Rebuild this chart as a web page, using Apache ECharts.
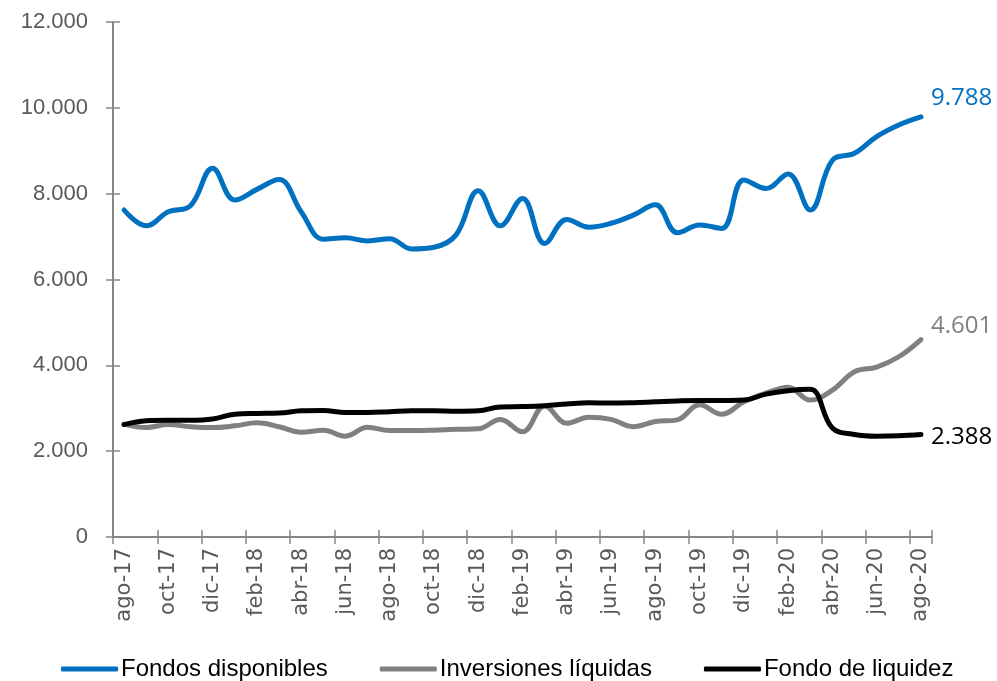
<!DOCTYPE html>
<html>
<head>
<meta charset="utf-8">
<script src="https://cdn.jsdelivr.net/npm/echarts@6/dist/echarts.min.js"></script>
<style>
  html, body { margin: 0; padding: 0; background: #fff; }
  #chart { width: 997px; height: 681px; }
</style>
</head>
<body>
<div id="chart"></div>
<script>
// Monthly categories, ago-17 .. ago-20
const months = ['ago-17','sep-17','oct-17','nov-17','dic-17','ene-18','feb-18','mar-18','abr-18','may-18','jun-18','jul-18',
  'ago-18','sep-18','oct-18','nov-18','dic-18','ene-19','feb-19','mar-19','abr-19','may-19','jun-19','jul-19',
  'ago-19','sep-19','oct-19','nov-19','dic-19','ene-20','feb-20','mar-20','abr-20','may-20','jun-20','jul-20','ago-20'];

const fondosDisponibles = [7620, 7250, 7580, 7720, 8590, 7850, 8100, 8330, 7580, 6940, 6970, 6900,
  6950, 6710, 6750, 7040, 8070, 7250, 7890, 6840, 7400, 7220, 7310, 7500,
  7740, 7090, 7270, 7190, 8320, 8120, 8460, 7620, 8780, 8940, 9330, 9600, 9788];

const inversionesLiquidas = [2630, 2550, 2620, 2570, 2550, 2590, 2660, 2570, 2440, 2490, 2350, 2560,
  2480, 2480, 2490, 2510, 2520, 2740, 2450, 3050, 2650, 2790, 2740, 2570,
  2690, 2730, 3080, 2860, 3150, 3350, 3490, 3190, 3420, 3850, 3960, 4200, 4601];

const fondoLiquidez = [2620, 2710, 2720, 2720, 2750, 2860, 2880, 2890, 2940, 2950, 2900, 2900,
  2920, 2940, 2940, 2930, 2940, 3030, 3040, 3060, 3100, 3130, 3120, 3130,
  3150, 3170, 3180, 3180, 3190, 3330, 3410, 3440, 2540, 2390, 2350, 2360, 2388];

const yTicks = { min: 0, max: 12000, step: 2000 };

const fmt = v => String(Math.round(v)).replace(/\B(?=(\d{3})+(?!\d))/g, '.');

const axisGray = '#868686';
const labelGray = '#595959';

const chart = echarts.init(document.getElementById('chart'), null, { renderer: 'canvas' });

function lineSeries(name, data, color, labelOffset) {
  return {
    name, type: 'line', data, smooth: 0.4, symbol: 'none',
    xAxisIndex: 0, yAxisIndex: 0,
    lineStyle: { color, width: 5, cap: 'round', join: 'round' },
    itemStyle: { color },
    endLabel: {
      show: true,
      formatter: p => fmt(p.value),
      color, fontFamily: '"Open Sans"', fontSize: 24,
      distance: 10, offset: labelOffset
    },
    z: 3
  };
}

chart.setOption({
  animation: false,
  grid: { left: 113, right: 65, top: 22, bottom: 144, containLabel: false },
  legend: {
    left: 56, top: 652,
    icon: 'roundRect', itemWidth: 57, itemHeight: 5, itemGap: 52,
    textStyle: { fontFamily: '"Liberation Sans"', fontSize: 24, color: '#000', padding: [0, 0, 0, -2] },
    data: ['Fondos disponibles', 'Inversiones líquidas', 'Fondo de liquidez']
  },
  xAxis: [
    {
      type: 'category', data: months, boundaryGap: true,
      axisLine: { lineStyle: { color: axisGray, width: 2 } },
      axisTick: { show: true, interval: 1, length: 7, lineStyle: { color: axisGray, width: 1.5 } },
      axisLabel: { interval: 1, rotate: 90, margin: 11, color: labelGray, fontFamily: '"DejaVu Sans"', fontSize: 21 }
    },
    {
      type: 'category', data: months, boundaryGap: true, position: 'bottom',
      axisLine: { show: false },
      axisTick: { show: true, inside: true, interval: 1, length: 7, lineStyle: { color: axisGray, width: 1.5 } },
      axisLabel: { show: false }
    }
  ],
  yAxis: [
    {
      type: 'value', min: yTicks.min, max: yTicks.max, interval: yTicks.step,
      splitLine: { show: false },
      axisLine: { show: true, lineStyle: { color: axisGray, width: 2 } },
      axisTick: { show: true, length: 7, lineStyle: { color: axisGray, width: 1.5 } },
      axisLabel: { margin: 25, color: labelGray, fontFamily: '"Liberation Sans"', fontSize: 22, formatter: v => fmt(v) }
    },
    {
      type: 'value', min: yTicks.min, max: yTicks.max, interval: yTicks.step, position: 'left',
      splitLine: { show: false },
      axisLine: { show: false },
      axisTick: { show: true, inside: true, length: 7, lineStyle: { color: axisGray, width: 1.5 } },
      axisLabel: { show: false }
    }
  ],
  series: [
    lineSeries('Fondos disponibles', fondosDisponibles, '#0070C0', [0, -19]),
    lineSeries('Inversiones líquidas', inversionesLiquidas, '#808080', [0, -13]),
    lineSeries('Fondo de liquidez', fondoLiquidez, '#000000', [0, 3])
  ]
});
</script>
</body>
</html>
